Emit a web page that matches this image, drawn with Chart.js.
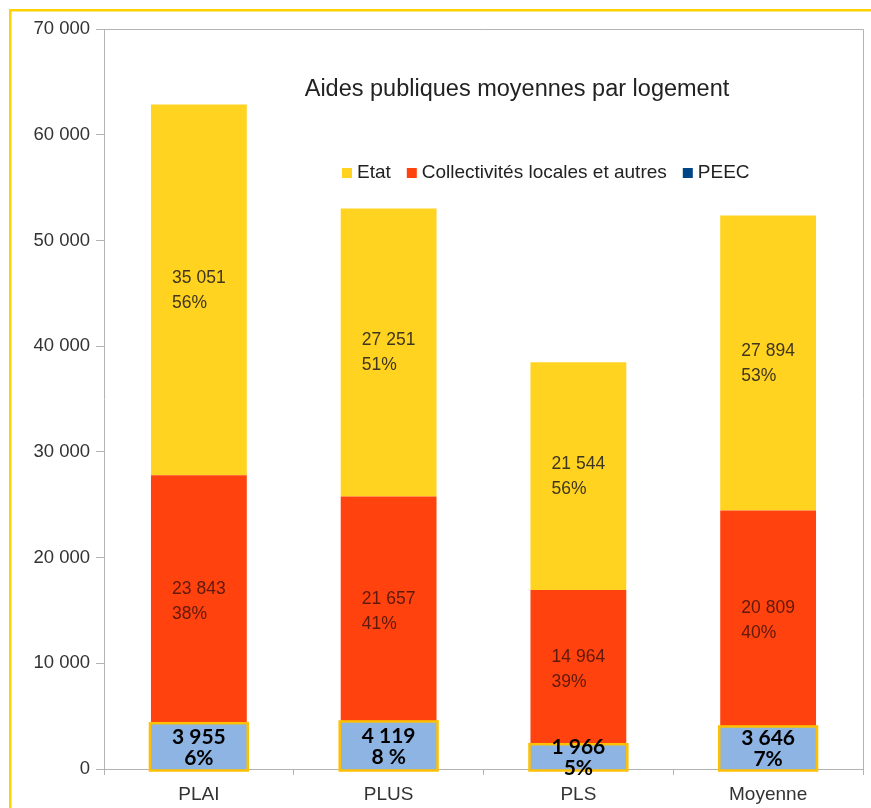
<!DOCTYPE html>
<html>
<head>
<meta charset="utf-8">
<script src="https://cdn.jsdelivr.net/npm/chart.js@4"></script>
<style>
  body { margin: 0; background: #fff; }
  canvas { display: block; }
</style>
</head>
<body>
<canvas id="aidesChart" width="871" height="808"></canvas>
<script>
// Categories and values
const categories = ['PLAI', 'PLUS', 'PLS', 'Moyenne'];
const peecValues = [3955, 4119, 1966, 3646];
const collectivitesValues = [23843, 21657, 14964, 20809];
const etatValues = [35051, 27251, 21544, 27894];

// Percent labels printed in the bars
const peecPct = ['6%', '8 %', '5%', '7%'];
const collectivitesPct = ['38%', '41%', '39%', '40%'];
const etatPct = ['56%', '51%', '56%', '53%'];

// y axis
const yMin = 0;
const yMax = 70000;
const yStep = 10000;

const titleText = 'Aides publiques moyennes par logement';
const legendItems = [
  { text: 'Etat', color: '#FFD320' },
  { text: 'Collectivités locales et autres', color: '#FF420E' },
  { text: 'PEEC', color: '#004586' }
];

const FONT = "'Liberation Sans', Arial, sans-serif";
const AXIS_GREY = '#b3b3b3';
const PEEC_FILL = '#8DB4E2';
const PEEC_EDGE = '#FFC000';

function fmt(n) {
  return String(n).replace(/\B(?=(\d{3})+(?!\d))/g, ' ');
}

// white page + yellow frame + plot border
const framePlugin = {
  id: 'frame',
  beforeDraw(chart) {
    const ctx = chart.ctx;
    ctx.save();
    ctx.fillStyle = '#fff';
    ctx.fillRect(0, 0, chart.width, chart.height);
    ctx.fillStyle = '#FFD200';
    ctx.fillRect(9, 9, chart.width - 9, 2.5);
    ctx.fillRect(9, 9, 2.5, chart.height - 9);
    ctx.restore();
  },
  afterDraw(chart) {
    const a = chart.chartArea;
    const ctx = chart.ctx;
    ctx.save();
    ctx.strokeStyle = AXIS_GREY;
    ctx.lineWidth = 1;
    ctx.beginPath();
    ctx.moveTo(a.left, a.top + 0.5);
    ctx.lineTo(a.right + 0.5, a.top + 0.5);
    ctx.lineTo(a.right + 0.5, a.bottom);
    ctx.stroke();
    ctx.restore();
  }
};

// title and legend sit inside the plot area
const headerPlugin = {
  id: 'header',
  afterDraw(chart) {
    const ctx = chart.ctx;
    ctx.save();
    ctx.fillStyle = '#222';
    ctx.font = '23.5px ' + FONT;
    ctx.textAlign = 'center';
    ctx.textBaseline = 'middle';
    ctx.fillText(titleText, 517, 90);

    ctx.font = '19px ' + FONT;
    ctx.textAlign = 'left';
    let x = 342;
    const y = 173;
    legendItems.forEach(item => {
      ctx.fillStyle = item.color;
      ctx.fillRect(x, y - 5, 10, 10);
      x += 15;
      ctx.fillStyle = '#222';
      ctx.fillText(item.text, x, y);
      x += ctx.measureText(item.text).width + 16;
    });
    ctx.restore();
  }
};

// value + percent labels in every segment
const labelPlugin = {
  id: 'segLabels',
  afterDatasetsDraw(chart) {
    const ctx = chart.ctx;
    ctx.save();
    ctx.textBaseline = 'middle';
    chart.data.datasets.forEach((ds, di) => {
      const meta = chart.getDatasetMeta(di);
      meta.data.forEach((bar, i) => {
        const lines = [fmt(ds.data[i]), ds.pct[i]];
        if (ds.boldLabels) {
          // the PEEC box in the original is a pasted frame a bit larger than the segment
          const left = bar.x - bar.width / 2 - 1;
          const top = bar.y - 4;
          const w = bar.width + 2;
          const h = bar.base + 2 - top;
          ctx.fillStyle = PEEC_FILL;
          ctx.fillRect(left, top, w, h);
          ctx.strokeStyle = PEEC_EDGE;
          ctx.lineWidth = 2.5;
          ctx.strokeRect(left, top, w, h);
          const mid = top + h / 2;
          ctx.font = 'bold 21px Lato, ' + FONT;
          ctx.fillStyle = '#000';
          ctx.textAlign = 'center';
          ctx.fillText(lines[0], bar.x, mid - 10);
          ctx.fillText(lines[1], bar.x, mid + 11);
        } else {
          const mid = (bar.y + bar.base) / 2;
          ctx.font = '17.5px ' + FONT;
          ctx.fillStyle = ds.labelColor;
          ctx.textAlign = 'left';
          const w = Math.max(...lines.map(t => ctx.measureText(t).width));
          const left = bar.x - w / 2;
          ctx.fillText(lines[0], left, mid - 12);
          ctx.fillText(lines[1], left, mid + 13);
        }
      });
    });
    ctx.restore();
  }
};

new Chart(document.getElementById('aidesChart'), {
  type: 'bar',
  data: {
    labels: categories,
    datasets: [
      {
        label: 'PEEC',
        data: peecValues,
        pct: peecPct,
        boldLabels: true,
        backgroundColor: PEEC_FILL
      },
      {
        label: 'Collectivités locales et autres',
        data: collectivitesValues,
        pct: collectivitesPct,
        labelColor: '#5e1a0c',
        backgroundColor: '#FF420E'
      },
      {
        label: 'Etat',
        data: etatValues,
        pct: etatPct,
        labelColor: '#3f3620',
        backgroundColor: '#FFD320'
      }
    ]
  },
  options: {
    responsive: false,
    animation: false,
    layout: { padding: { top: 29, right: 8, left: 0, bottom: 0 } },
    datasets: { bar: { barPercentage: 0.505, categoryPercentage: 1 } },
    plugins: {
      legend: { display: false },
      title: { display: false },
      tooltip: { enabled: false }
    },
    scales: {
      x: {
        stacked: true,
        grid: { offset: true, drawOnChartArea: false, tickLength: 6, color: AXIS_GREY },
        border: { color: AXIS_GREY },
        ticks: { color: '#333', font: { family: FONT, size: 19 }, padding: 8 },
        afterFit(scale) { scale.height = 39; }
      },
      y: {
        stacked: true,
        min: yMin,
        max: yMax,
        grid: { drawOnChartArea: false, tickLength: 8, color: AXIS_GREY },
        border: { color: AXIS_GREY },
        ticks: {
          stepSize: yStep,
          color: '#333',
          font: { family: FONT, size: 18.5 },
          padding: 6,
          callback: v => fmt(v)
        },
        afterFit(scale) { scale.width = 104; }
      }
    }
  },
  plugins: [framePlugin, headerPlugin, labelPlugin]
});
</script>
</body>
</html>
